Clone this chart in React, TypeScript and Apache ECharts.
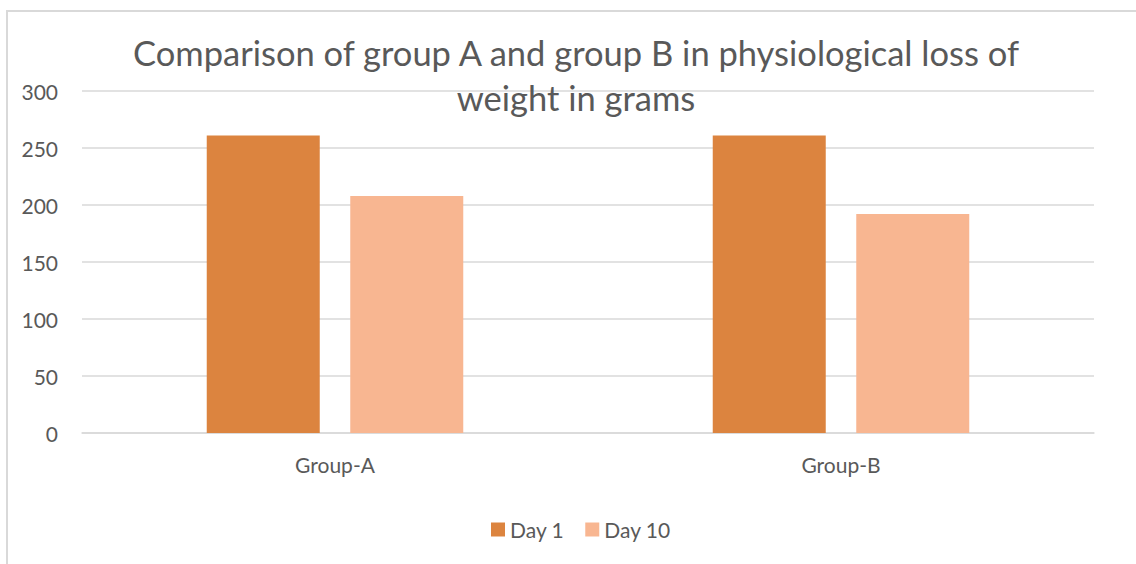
import React, { useEffect, useRef } from "react";
import * as echarts from "echarts";

const categories = ["Group-A", "Group-B"];
const day1 = [261, 261];
const day10 = [208, 192];
const titleLines = ["Comparison of group A and group B in physiological loss of", "weight in grams"];

export default function App() {
  const ref = useRef<HTMLDivElement>(null);
  useEffect(() => {
    if (!ref.current) return;
    const chart = echarts.init(ref.current, undefined, { renderer: "svg" });
    const font = "Lato, 'Open Sans', sans-serif";
    chart.setOption({
      animation: false,
      backgroundColor: "#ffffff",
      textStyle: { fontFamily: font },
      title: {
        text: titleLines.join("\n"),
        left: 571,
        top: 25,
        textAlign: "center",
        textStyle: { fontFamily: font, fontSize: 34.5, fontWeight: "normal", color: "#595959", lineHeight: 45 },
      },
      graphic: [
        {
          type: "rect",
          shape: { x: 7, y: 11, width: 1140, height: 570 },
          style: { fill: "none", stroke: "#D9D9D9", lineWidth: 2 },
          silent: true,
          z: -1,
        },
      ],
      legend: {
        left: 491,
        top: 519,
        itemWidth: 14,
        itemHeight: 14,
        itemGap: 21,
        icon: "rect",
        textStyle: { fontFamily: font, fontSize: 21, color: "#595959", padding: [0, 0, 0, 0] },
        data: ["Day 1", "Day 10"],
        padding: 0,
      },
      grid: { left: 82, right: 42, top: 91, bottom: 131 },
      xAxis: {
        type: "category",
        data: categories,
        axisLine: { lineStyle: { color: "#D9D9D9", width: 1.5 } },
        axisTick: { show: false },
        axisLabel: { fontFamily: font, fontSize: 21, color: "#595959", margin: 21 },
      },
      yAxis: {
        type: "value",
        min: 0,
        max: 300,
        interval: 50,
        axisLine: { show: false },
        axisTick: { show: false },
        splitLine: { lineStyle: { color: "#D9D9D9", width: 1.5 } },
        axisLabel: { fontFamily: font, fontSize: 21, color: "#595959", margin: 24 },
      },
      series: [
        {
          name: "Day 1",
          type: "bar",
          data: day1,
          barWidth: 113,
          barGap: "27%",
          itemStyle: { color: "#DC843F" },
        },
        {
          name: "Day 10",
          type: "bar",
          data: day10,
          barWidth: 113,
          itemStyle: { color: "#F8B691" },
        },
      ],
    });
    return () => chart.dispose();
  }, []);
  return <div ref={ref} style={{ position: "fixed", left: 0, top: 0, width: 1136, height: 564 }} />;
}
